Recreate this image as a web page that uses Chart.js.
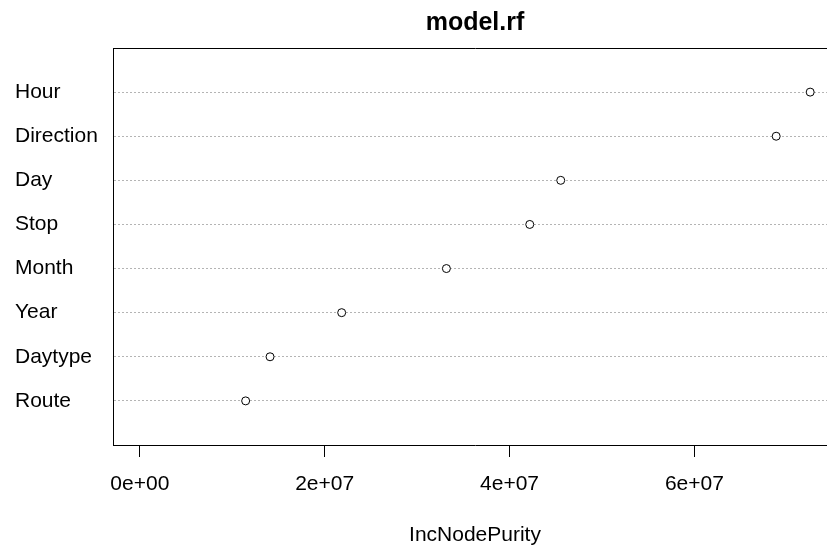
<!DOCTYPE html>
<html>
<head>
<meta charset="utf-8">
<script src="https://cdn.jsdelivr.net/npm/chart.js@4"></script>
<style>
  html, body { margin: 0; padding: 0; overflow: hidden; background: #fff; }
</style>
</head>
<body>
<canvas id="dotChart" width="837" height="548"></canvas>
<script>
// variables, top to bottom as in the plot
const variables = ['Hour', 'Direction', 'Day', 'Stop', 'Month', 'Year', 'Daytype', 'Route'];
const incNodePurity = [7.253e7, 6.885e7, 4.554e7, 4.219e7, 3.317e7, 2.184e7, 1.409e7, 1.145e7];
const xTicks = [0, 2e7, 4e7, 6e7];

const n = variables.length;
const maxVal = Math.max(...incNodePurity);
const pad = 0.04 * maxVal; // R style axis extension

function sciLabel(v) {
    if (v === 0) return '0e+00';
    const e = Math.floor(Math.log10(v));
    const m = Math.round(v / Math.pow(10, e));
    return m + 'e+' + String(e).padStart(2, '0');
}

const FONT = 'Liberation Sans, Arial, sans-serif';

const points = incNodePurity.map((v, i) => ({ x: v, y: n - i }));

new Chart(document.getElementById('dotChart').getContext('2d'), {
    type: 'scatter',
    data: {
        datasets: [{
            data: points,
            pointStyle: 'circle',
            pointRadius: 4,
            pointHoverRadius: 4,
            pointBorderWidth: 1,
            pointBorderColor: '#000',
            pointBackgroundColor: '#fff',
            showLine: false
        }]
    },
    options: {
        responsive: false,
        animation: false,
        layout: { autoPadding: false, padding: { left: 15, right: 0, top: 0, bottom: 0 } },
        plugins: {
            legend: { display: false },
            tooltip: { enabled: false }
        },
        scales: {
            x: {
                type: 'linear',
                position: 'bottom',
                min: -pad,
                max: maxVal + pad,
                afterBuildTicks: s => { s.ticks = xTicks.map(v => ({ value: v })); },
                afterFit: s => { s.height = 103; },
                ticks: {
                    callback: v => sciLabel(v),
                    color: '#000',
                    padding: 15,
                    maxRotation: 0,
                    font: { family: FONT, size: 21 }
                },
                grid: {
                    drawOnChartArea: false,
                    drawTicks: true,
                    tickLength: 12,
                    tickColor: '#000',
                    tickWidth: 1
                },
                border: { display: true, color: '#000', width: 1 },
                title: {
                    display: true,
                    text: 'IncNodePurity',
                    color: '#000',
                    padding: { top: 0, bottom: 0 },
                    font: { family: FONT, size: 21 }
                }
            },
            x2: {
                type: 'linear',
                position: 'top',
                min: -pad,
                max: maxVal + pad,
                afterFit: s => { s.height = 48; },
                ticks: { display: false },
                grid: { display: false, drawTicks: false },
                border: { display: true, color: '#000', width: 1 },
                title: {
                    display: true,
                    text: 'model.rf',
                    color: '#000',
                    padding: { top: 8, bottom: 0 },
                    font: { family: FONT, size: 25, weight: 'bold' }
                }
            },
            y: {
                type: 'linear',
                min: 0,
                max: n + 1,
                afterBuildTicks: s => {
                    s.ticks = variables.map((_, i) => ({ value: n - i }));
                },
                afterFit: s => { s.width = 98; },
                ticks: {
                    callback: v => variables[n - v],
                    crossAlign: 'far',
                    color: '#000',
                    font: { family: FONT, size: 21 }
                },
                grid: {
                    drawTicks: false,
                    color: '#b4b4b4',
                    lineWidth: 1
                },
                border: { display: true, color: '#000', width: 1, dash: [2, 2] }
            }
        }
    }
});
</script>
</body>
</html>
